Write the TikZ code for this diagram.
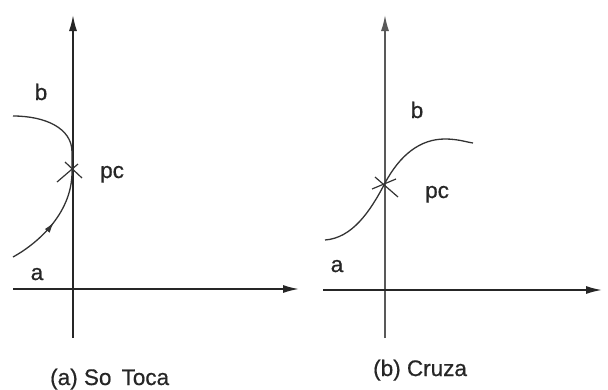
\documentclass[tikz,border=0pt]{standalone}
\usepackage{fontspec}
\setmainfont{Liberation Sans}
\newfontfamily\lblfont[FakeBold=0.6]{Liberation Sans}
\usetikzlibrary{arrows.meta,decorations.markings}
\begin{document}
\begin{tikzpicture}[x=1pt,y=-1pt,
  axis/.style={line width=1.6pt,draw=black!85,-{Latex[length=16pt,width=8pt]}},
  curve/.style={line width=1.3pt,draw=black!80},
  crossline/.style={line width=1.2pt,draw=black!80},
  lbl/.style={font=\lblfont\fontsize{22.5}{26}\selectfont,text=black!85,anchor=base,inner sep=0pt},
  midarrow/.style={postaction={decorate},decoration={markings,mark=at position 0.5 with {\arrow{Latex[length=11pt,width=6pt]}}}}]
\useasboundingbox (0,0) rectangle (608,389);
% ---- panel (a)
\coordinate (aybot) at (73,338);
\coordinate (aytop) at (73,15);
\coordinate (axl) at (13,289);
\coordinate (axr) at (299,289);
\draw[axis] (aybot) -- (aytop);
\draw[axis] (axl) -- (axr);
\coordinate (aup0) at (13,116);
\coordinate (aup1) at (72,152);
\coordinate (alo1) at (72,172);
\coordinate (alo0) at (13,257);
\draw[curve] (aup0) .. controls (45,116) and (72,128) .. (aup1) -- (alo1);
\draw[curve,midarrow] (alo0) .. controls (35,245) and (72,215) .. (alo1);
\coordinate (ac1) at (65,162); \coordinate (ac2) at (82,178);
\coordinate (ac3) at (57,182); \coordinate (ac4) at (78,164);
\draw[crossline] (ac1) -- (ac2);
\draw[crossline] (ac3) -- (ac4);
\node[lbl] (ab) at (41,100) {b};
\node[lbl,anchor=base west] (apc) at (100,178) {pc};
\node[lbl] (aa) at (37,280) {a};
\node[lbl,anchor=base west] (acap) at (50,385) {(a) So\hspace{0.45em}Toca};
% ---- panel (b)
\coordinate (bybot) at (385,338);
\coordinate (bytop) at (385,15);
\coordinate (bxl) at (323,290);
\coordinate (bxr) at (602,290);
\draw[axis,draw=black!65] (bybot) -- (bytop);
\draw[axis] (bxl) -- (bxr);
\coordinate (b0) at (325,240);
\coordinate (bpc) at (385,183);
\coordinate (bpk) at (445,139);
\coordinate (b1) at (473,143);
\draw[curve] (b0) .. controls (352,238) and (370,212) .. (bpc)
  .. controls (400,155) and (420,139) .. (bpk)
  .. controls (458,139) and (466,142) .. (b1);
\coordinate (bc1) at (372,189); \coordinate (bc2) at (396,179);
\coordinate (bc3) at (375,177); \coordinate (bc4) at (398,197);
\draw[crossline] (bc1) -- (bc2);
\draw[crossline] (bc3) -- (bc4);
\node[lbl] (bb) at (417,118) {b};
\node[lbl,anchor=base west] (bpclbl) at (425,198) {pc};
\node[lbl] (ba) at (337,272) {a};
\node[lbl,anchor=base west] (bcap) at (373,376) {(b) Cruza};
\end{tikzpicture}
\end{document}
